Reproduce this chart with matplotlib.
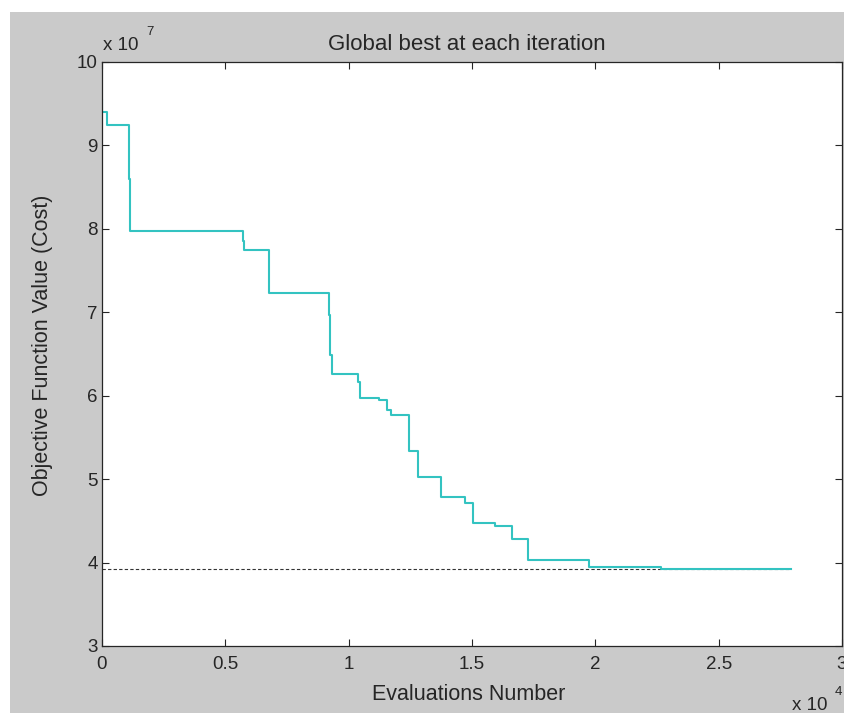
import numpy as np
from matplotlib import pyplot as plt
from matplotlib.patches import Rectangle
from matplotlib.ticker import FuncFormatter

plt.rcParams['font.family'] = ['Liberation Sans', 'DejaVu Sans']

# global best after each evaluation (step curve)
evals = [0, 20, 190, 1094, 1147, 5713, 5766, 6767, 9186, 9250, 9307,
         10360, 10450, 11220, 11570, 11710, 12430, 12800, 13760, 14700,
         15040, 15950, 16640, 17260, 19760, 22650, 27950]
cost = [9.544e7, 9.40e7, 9.25e7, 8.60e7, 7.974e7, 7.85e7, 7.746e7, 7.235e7,
        6.97e7, 6.49e7, 6.26e7, 6.16e7, 5.969e7, 5.945e7, 5.83e7, 5.765e7,
        5.34e7, 5.03e7, 4.785e7, 4.72e7, 4.474e7, 4.438e7, 4.28e7, 4.027e7,
        3.943e7, 3.923e7, 3.923e7]
best_known = 3.923e7

W, H = 845, 713
gray = '#cacaca'
dark = '#262626'

fig = plt.figure(figsize=(W / 100, H / 100), dpi=100, facecolor='white')
fig.patches.append(Rectangle((10 / W, 0), 1, 1 - 12 / H, transform=fig.transFigure,
                             facecolor=gray, edgecolor='none', zorder=-1))

ax = fig.add_axes([102 / W, 1 - 646 / H, 740 / W, 584 / H])
ax.set_facecolor('white')

ax.plot([evals[0], evals[-1]], [best_known, best_known], color='#333333',
        linestyle=(0, (3, 2)), linewidth=0.8)
ax.step(evals, cost, where='post', color='#33c3c1', linewidth=1.5)

ax.set_xlim(0, 30000)
ax.set_ylim(3e7, 10e7)
ax.set_xticks(np.arange(0, 30001, 5000))
ax.set_yticks(np.arange(3e7, 10.01e7, 1e7))
ax.xaxis.set_major_formatter(FuncFormatter(lambda v, p: '%g' % (v / 1e4)))
ax.yaxis.set_major_formatter(FuncFormatter(lambda v, p: '%g' % (v / 1e7)))
ax.tick_params(direction='in', length=5, width=0.8, colors=dark, labelsize=13.5,
               top=True, right=True)
ax.tick_params(axis='x', pad=7)
ax.tick_params(axis='y', pad=3)
for s in ax.spines.values():
    s.set_color(dark)
    s.set_linewidth(0.9)

fig.text(467 / W, 1 - 44 / H, 'Global best at each iteration', ha='center', va='center',
         fontsize=16, color=dark)
fig.text(469 / W, 1 - 694 / H, 'Evaluations Number', ha='center', va='center',
         fontsize=15.5, color=dark)
fig.text(43 / W, 1 - 345 / H, 'Objective Function Value (Cost)', ha='center', va='center',
         rotation=90, fontsize=15.5, color=dark)

# exponent labels, MATLAB style
fig.text(103 / W, 1 - 45 / H, 'x 10', ha='left', va='center', fontsize=13.5, color=dark)
fig.text(146 / W, 1 - 32 / H, '7', ha='left', va='center', fontsize=9.5, color=dark)
fig.text(792 / W, 1 - 705 / H, 'x 10', ha='left', va='center', fontsize=13.5, color=dark)
fig.text(835 / W, 1 - 692 / H, '4', ha='left', va='center', fontsize=9.5, color=dark)

plt.savefig('out.png', dpi=100, facecolor=fig.get_facecolor())
